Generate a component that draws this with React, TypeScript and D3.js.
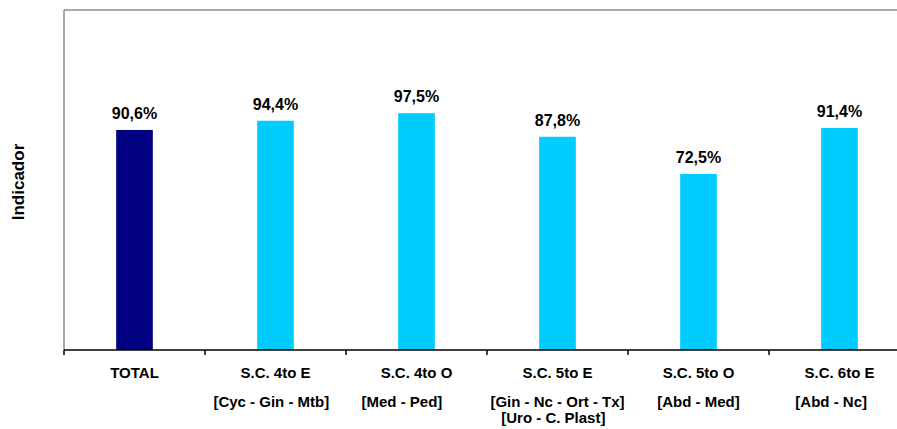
import React from "react";
import * as d3 from "d3";

const categories = ["TOTAL", "S.C. 4to E", "S.C. 4to O", "S.C. 5to E", "S.C. 5to O", "S.C. 6to E"];
const NB = "\u00a0";
const subLabels: string[][] = [
  [],
  ["[Cyc - Gin - Mtb]" + NB.repeat(2)],
  ["[Med - Ped]" + NB.repeat(7)],
  ["[Gin - Nc - Ort - Tx]", "[Uro - C. Plast]" + NB.repeat(2)],
  ["[Abd - Med]"],
  ["[Abd - Nc]" + NB.repeat(4)],
];
const values = [90.6, 94.4, 97.5, 87.8, 72.5, 91.4];
const barColors = ["#000080", "#00CCFF", "#00CCFF", "#00CCFF", "#00CCFF", "#00CCFF"];
const yMax = 140;
const yTitle = "Indicador";

const W = 897;
const H = 429;
const left = 64;
const top = 10;
const bottom = 350;
const step = 141;
const FONT = "'Liberation Sans', Arial, Helvetica, sans-serif";

export default function App() {
  const x = d3
    .scaleBand<number>()
    .domain(categories.map((_, i) => i))
    .range([left, left + step * categories.length])
    .paddingInner(0.74)
    .paddingOuter(0.37);
  const y = d3.scaleLinear().domain([0, yMax]).range([bottom, top]);
  const fmt = (v: number) => v.toFixed(1).replace(".", ",") + "%";

  return (
    <svg
      width={W}
      height={H}
      style={{ position: "absolute", left: 0, top: 0, background: "#fff" }}
      fontFamily={FONT}
    >
      <rect x={0} y={0} width={W} height={H} fill="#fff" />
      {/* plot frame */}
      <line x1={left} x2={W} y1={top} y2={top} stroke="#8c8c8c" strokeWidth={1.5} />
      <line x1={left} x2={left} y1={top} y2={bottom} stroke="#8c8c8c" strokeWidth={1.5} />
      {/* bars */}
      {values.map((v, i) => (
        <rect
          key={i}
          x={x(i)!}
          y={y(v)}
          width={x.bandwidth()}
          height={bottom - y(v)}
          fill={barColors[i]}
        />
      ))}
      {/* value labels */}
      {values.map((v, i) => (
        <text
          key={i}
          x={x(i)! + x.bandwidth() / 2}
          y={y(v) - 11}
          textAnchor="middle"
          fontWeight="bold"
          fontSize={16}
          fill="#000"
        >
          {fmt(v)}
        </text>
      ))}
      {/* x axis */}
      <line x1={left} x2={W} y1={bottom} y2={bottom} stroke="#000" strokeWidth={1.5} />
      {categories.map((_, i) => (
        <line
          key={i}
          x1={left + i * step}
          x2={left + i * step}
          y1={bottom}
          y2={bottom + 5}
          stroke="#000"
          strokeWidth={1.5}
        />
      ))}
      {categories.map((c, i) => {
        const cx = left + (i + 0.5) * step;
        return (
          <g key={i}>
            <text x={cx} y={378} textAnchor="middle" fontWeight="bold" fontSize={15} fill="#000">
              {c}
            </text>
            {subLabels[i].map((s, j) => (
              <text
                key={j}
                x={cx}
                y={407 + j * 16}
                textAnchor="middle"
                fontWeight="bold"
                fontSize={15}
                fill="#000"
                style={{ whiteSpace: "pre" }}
              >
                {s}
              </text>
            ))}
          </g>
        );
      })}
      {/* y title */}
      <text
        transform={`translate(24,${(top + bottom) / 2 + 2}) rotate(-90)`}
        textAnchor="middle"
        fontWeight="bold"
        fontSize={17}
        fill="#000"
      >
        {yTitle}
      </text>
    </svg>
  );
}
